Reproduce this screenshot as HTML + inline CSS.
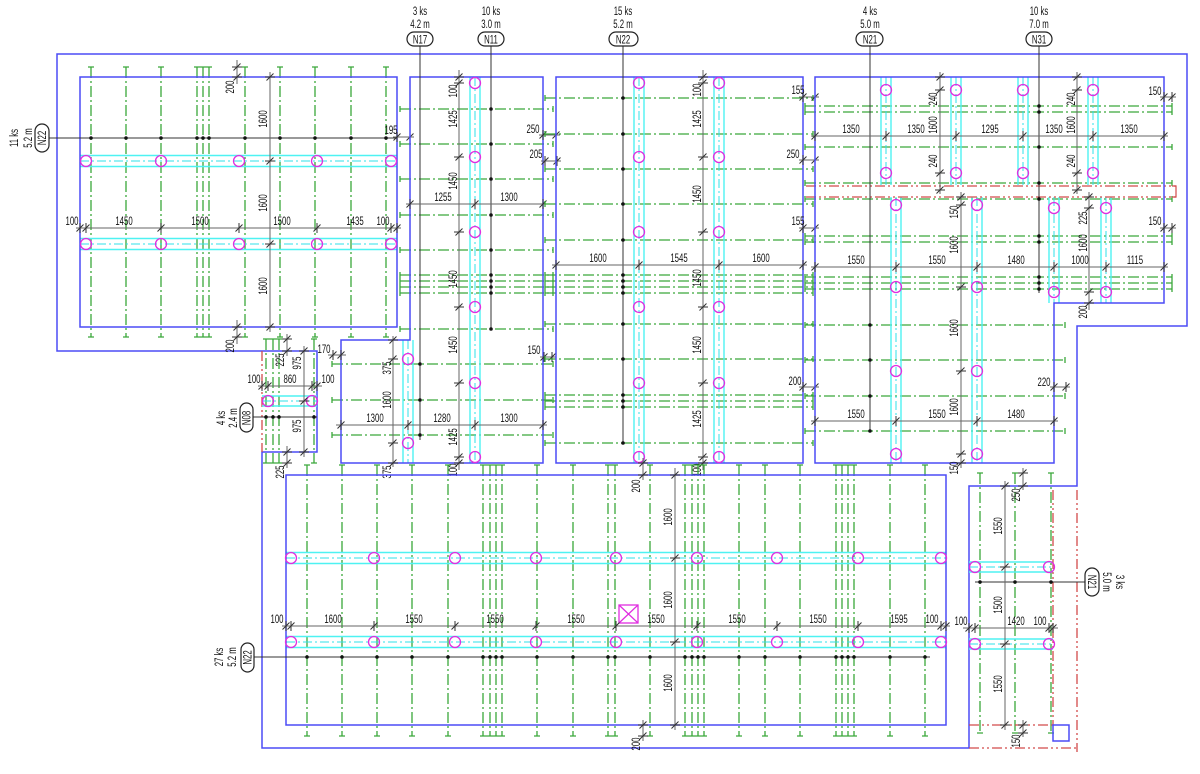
<!DOCTYPE html>
<html><head><meta charset="utf-8">
<style>
html,body{margin:0;padding:0;background:#fff;}
svg{display:block}
.b{stroke:#4b4bf5;stroke-width:1.5;fill:none}
.g{stroke:#3aa83a;stroke-width:1.3;stroke-dasharray:11 3 2 3;fill:none}
.gc{stroke:#3aa83a;stroke-width:1.3;fill:none}
.c{stroke:#4ef2f2;stroke-width:1.4;fill:none}
.cc{stroke:#2fe0ea;stroke-width:1;stroke-dasharray:9 3 2 3;fill:none}
.m{stroke:#e02ee0;stroke-width:1.3;fill:none}
.k{stroke:#333;stroke-width:1;fill:none}
.d{stroke:#666;stroke-width:1;fill:none}
.r{stroke:#d24a4a;stroke-width:1.3;stroke-dasharray:10 3 2 3 2 3;fill:none}
.o{stroke:#222;stroke-width:1.2;fill:#fff}
text{font-family:"Liberation Sans",sans-serif;font-size:12px;fill:#111;text-anchor:middle}
</style></head><body>
<svg width="1200" height="774" viewBox="0 0 1200 774" xmlns="http://www.w3.org/2000/svg">
<defs>
<path id="th" d="M-3.5 3.5L3.5-3.5M0-5V5" stroke="#333" stroke-width="1" fill="none"/>
<path id="tv" d="M-3.5 3.5L3.5-3.5M-5 0H5" stroke="#333" stroke-width="1" fill="none"/>
</defs>
<rect width="1200" height="774" fill="#fff"/>

<!-- OUTER -->
<path class="b" d="M57 54H1187V326H1077V486H969V748H262V452H317V351H57Z"/>
<path class="r" d="M262 351V452"/>

<!-- ============ PANEL A ============ -->
<path class="g" d="M91 67V337M126 67V337M161 67V337M197 67V337M203 67V337M209 67V337M245 67V337M280 67V337M315 67V337M351 67V337M386 67V337"/>
<path class="gc" d="M88 67h6M88 337h6M123 67h6M123 337h6M158 67h6M158 337h6M194 67h6M194 337h6M200 67h6M200 337h6M206 67h6M206 337h6M242 67h6M242 337h6M277 67h6M277 337h6M312 67h6M312 337h6M348 67h6M348 337h6M383 67h6M383 337h6"/>
<path class="c" d="M80 155.5H397M80 166.5H397M80 238.5H397M80 249.5H397"/>
<path class="cc" d="M80 161H397M80 244H397"/>
<rect class="b" x="80" y="77" width="317" height="250"/>
<path class="k" d="M49 138H397"/>
<g class="m">
<circle cx="86" cy="161" r="5.5"/><circle cx="161" cy="161" r="5.5"/><circle cx="239" cy="161" r="5.5"/><circle cx="317" cy="161" r="5.5"/><circle cx="391" cy="161" r="5.5"/>
<circle cx="86" cy="244" r="5.5"/><circle cx="161" cy="244" r="5.5"/><circle cx="239" cy="244" r="5.5"/><circle cx="317" cy="244" r="5.5"/><circle cx="391" cy="244" r="5.5"/>
</g>
<g fill="#111">
<circle cx="91" cy="138" r="1.8"/><circle cx="126" cy="138" r="1.8"/><circle cx="161" cy="138" r="1.8"/><circle cx="197" cy="138" r="1.8"/><circle cx="203" cy="138" r="1.8"/><circle cx="209" cy="138" r="1.8"/><circle cx="245" cy="138" r="1.8"/><circle cx="280" cy="138" r="1.8"/><circle cx="315" cy="138" r="1.8"/><circle cx="351" cy="138" r="1.8"/><circle cx="386" cy="138" r="1.8"/>
</g>
<path class="d" d="M270 72V332M237 60V84M237 320V344M76 228H401M393 137H414"/>
<use href="#tv" x="270" y="77"/><use href="#tv" x="270" y="161"/><use href="#tv" x="270" y="244"/><use href="#tv" x="270" y="327"/>
<use href="#tv" x="237" y="67"/><use href="#tv" x="237" y="77"/><use href="#tv" x="237" y="327"/><use href="#tv" x="237" y="337"/>
<use href="#th" x="80" y="228"/><use href="#th" x="86" y="228"/><use href="#th" x="161" y="228"/><use href="#th" x="239" y="228"/><use href="#th" x="317" y="228"/><use href="#th" x="391" y="228"/><use href="#th" x="397" y="228"/>
<use href="#th" x="397" y="137"/><use href="#th" x="410" y="137"/>
<text transform="translate(267,119) rotate(-90) scale(.65,1)">1600</text>
<text transform="translate(267,203) rotate(-90) scale(.65,1)">1600</text>
<text transform="translate(267,286) rotate(-90) scale(.65,1)">1600</text>
<text transform="translate(234,87) rotate(-90) scale(.65,1)">200</text>
<text transform="translate(234,346) rotate(-90) scale(.65,1)">200</text>
<text transform="translate(72,225) scale(.65,1)">100</text>
<text transform="translate(124,225) scale(.65,1)">1450</text>
<text transform="translate(200,225) scale(.65,1)">1500</text>
<text transform="translate(282,225) scale(.65,1)">1500</text>
<text transform="translate(355,225) scale(.65,1)">1435</text>
<text transform="translate(383,225) scale(.65,1)">100</text>
<text transform="translate(391,134) scale(.65,1)">195</text>
<text transform="translate(18,138) rotate(-90) scale(.65,1)">11 ks</text>
<text transform="translate(32,138) rotate(-90) scale(.65,1)">5.2 m</text>
<rect class="o" x="35" y="124" width="14" height="28" rx="7"/>
<text transform="translate(46,138) rotate(-90) scale(.65,1)">N22</text>

<!-- ============ PANEL B ============ -->
<path class="g" d="M400 109H553M400 144H553M400 179H553M400 215H553M400 250H553M400 275H553M400 281H553M400 287H553M400 293H553M400 329H553M332 364H553M332 400H553M332 435H553"/>
<path class="gc" d="M400 106v6M553 106v6M400 141v6M553 141v6M400 176v6M553 176v6M400 212v6M553 212v6M400 247v6M553 247v6M400 272v24M553 272v24M400 326v6M553 326v6M332 361v6M553 361v6M332 397v6M553 397v6M332 432v6M553 432v6"/>
<path class="c" d="M470 77V463M480 77V463M403 340V463M413 340V463"/>
<path class="cc" d="M475 77V463M408 340V463"/>
<path class="b" d="M410 77H543V463H341V340H410Z"/>
<path class="k" d="M491 46V329M420 46V440"/>
<g class="m">
<circle cx="475" cy="83" r="5.5"/><circle cx="475" cy="157" r="5.5"/><circle cx="475" cy="232" r="5.5"/><circle cx="475" cy="307" r="5.5"/><circle cx="475" cy="383" r="5.5"/><circle cx="475" cy="457" r="5.5"/>
<circle cx="408" cy="359" r="5.5"/><circle cx="408" cy="443" r="5.5"/>
</g>
<g fill="#111">
<circle cx="491" cy="109" r="1.8"/><circle cx="491" cy="144" r="1.8"/><circle cx="491" cy="179" r="1.8"/><circle cx="491" cy="215" r="1.8"/><circle cx="491" cy="250" r="1.8"/><circle cx="491" cy="275" r="1.8"/><circle cx="491" cy="281" r="1.8"/><circle cx="491" cy="287" r="1.8"/><circle cx="491" cy="293" r="1.8"/><circle cx="491" cy="329" r="1.8"/>
<circle cx="420" cy="364" r="1.8"/><circle cx="420" cy="400" r="1.8"/><circle cx="420" cy="435" r="1.8"/>
</g>
<path class="d" d="M459 70V470M406 204H547M336 425H547M393 336V467M539 135H560M541 161H561M540 357H556"/>
<use href="#tv" x="459" y="77"/><use href="#tv" x="459" y="83"/><use href="#tv" x="459" y="157"/><use href="#tv" x="459" y="232"/><use href="#tv" x="459" y="307"/><use href="#tv" x="459" y="383"/><use href="#tv" x="459" y="457"/><use href="#tv" x="459" y="463"/>
<use href="#tv" x="393" y="340"/><use href="#tv" x="393" y="359"/><use href="#tv" x="393" y="443"/><use href="#tv" x="393" y="463"/>
<use href="#th" x="410" y="204"/><use href="#th" x="475" y="204"/><use href="#th" x="543" y="204"/>
<use href="#th" x="341" y="425"/><use href="#th" x="408" y="425"/><use href="#th" x="475" y="425"/><use href="#th" x="543" y="425"/>
<use href="#th" x="543" y="135"/><use href="#th" x="556" y="135"/><use href="#th" x="545" y="161"/><use href="#th" x="557" y="161"/><use href="#th" x="544" y="357"/><use href="#th" x="552" y="357"/>
<text transform="translate(457,91) rotate(-90) scale(.65,1)">100</text>
<text transform="translate(457,119) rotate(-90) scale(.65,1)">1425</text>
<text transform="translate(457,181) rotate(-90) scale(.65,1)">1450</text>
<text transform="translate(457,279) rotate(-90) scale(.65,1)">1450</text>
<text transform="translate(457,345) rotate(-90) scale(.65,1)">1450</text>
<text transform="translate(457,437) rotate(-90) scale(.65,1)">1425</text>
<text transform="translate(457,470) rotate(-90) scale(.65,1)">100</text>
<text transform="translate(391,368) rotate(-90) scale(.65,1)">375</text>
<text transform="translate(391,400) rotate(-90) scale(.65,1)">1600</text>
<text transform="translate(391,472) rotate(-90) scale(.65,1)">375</text>
<text transform="translate(443,201) scale(.65,1)">1255</text>
<text transform="translate(509,201) scale(.65,1)">1300</text>
<text transform="translate(375,422) scale(.65,1)">1300</text>
<text transform="translate(442,422) scale(.65,1)">1280</text>
<text transform="translate(509,422) scale(.65,1)">1300</text>
<text transform="translate(533,133) scale(.65,1)">250</text>
<text transform="translate(536,158) scale(.65,1)">205</text>
<text transform="translate(534,354) scale(.65,1)">150</text>

<!-- ============ PANEL C ============ -->
<path class="g" d="M545 98H813M545 134H813M545 169H813M545 204H813M545 240H813M545 275H813M545 281H813M545 287H813M545 293H813M545 324H813M545 359H813M545 395H813M545 401H813M545 407H813M545 443H813"/>
<path class="gc" d="M545 95v6M813 95v6M545 131v6M813 131v6M545 166v6M813 166v6M545 201v6M813 201v6M545 237v6M813 237v6M545 272v24M813 272v24M545 321v6M813 321v6M545 356v6M813 356v6M545 392v18M813 392v18M545 440v6M813 440v6"/>
<path class="c" d="M634 77V463M644 77V463M714 77V463M724 77V463"/>
<path class="cc" d="M639 77V463M719 77V463"/>
<rect class="b" x="556" y="77" width="247" height="386"/>
<path class="k" d="M623 46V443"/>
<g class="m">
<circle cx="639" cy="83" r="5.5"/><circle cx="639" cy="157" r="5.5"/><circle cx="639" cy="232" r="5.5"/><circle cx="639" cy="307" r="5.5"/><circle cx="639" cy="383" r="5.5"/><circle cx="639" cy="457" r="5.5"/>
<circle cx="719" cy="83" r="5.5"/><circle cx="719" cy="157" r="5.5"/><circle cx="719" cy="232" r="5.5"/><circle cx="719" cy="307" r="5.5"/><circle cx="719" cy="383" r="5.5"/><circle cx="719" cy="457" r="5.5"/>
</g>
<g fill="#111">
<circle cx="623" cy="98" r="1.8"/><circle cx="623" cy="134" r="1.8"/><circle cx="623" cy="169" r="1.8"/><circle cx="623" cy="204" r="1.8"/><circle cx="623" cy="240" r="1.8"/><circle cx="623" cy="275" r="1.8"/><circle cx="623" cy="281" r="1.8"/><circle cx="623" cy="287" r="1.8"/><circle cx="623" cy="293" r="1.8"/><circle cx="623" cy="324" r="1.8"/><circle cx="623" cy="359" r="1.8"/><circle cx="623" cy="395" r="1.8"/><circle cx="623" cy="401" r="1.8"/><circle cx="623" cy="407" r="1.8"/><circle cx="623" cy="443" r="1.8"/>
</g>
<path class="d" d="M703 70V470M552 265H807M799 97H819M799 160H819M799 228H819M799 387H819"/>
<use href="#tv" x="703" y="77"/><use href="#tv" x="703" y="83"/><use href="#tv" x="703" y="157"/><use href="#tv" x="703" y="232"/><use href="#tv" x="703" y="307"/><use href="#tv" x="703" y="383"/><use href="#tv" x="703" y="457"/><use href="#tv" x="703" y="463"/>
<use href="#th" x="556" y="265"/><use href="#th" x="639" y="265"/><use href="#th" x="719" y="265"/><use href="#th" x="803" y="265"/>
<use href="#th" x="803" y="97"/><use href="#th" x="815" y="97"/><use href="#th" x="803" y="160"/><use href="#th" x="815" y="160"/><use href="#th" x="803" y="228"/><use href="#th" x="815" y="228"/><use href="#th" x="803" y="387"/><use href="#th" x="815" y="387"/>
<text transform="translate(701,90) rotate(-90) scale(.65,1)">100</text>
<text transform="translate(701,119) rotate(-90) scale(.65,1)">1425</text>
<text transform="translate(701,194) rotate(-90) scale(.65,1)">1450</text>
<text transform="translate(701,278) rotate(-90) scale(.65,1)">1450</text>
<text transform="translate(701,345) rotate(-90) scale(.65,1)">1450</text>
<text transform="translate(701,419) rotate(-90) scale(.65,1)">1425</text>
<text transform="translate(701,470) rotate(-90) scale(.65,1)">100</text>
<text transform="translate(598,262) scale(.65,1)">1600</text>
<text transform="translate(679,262) scale(.65,1)">1545</text>
<text transform="translate(761,262) scale(.65,1)">1600</text>
<text transform="translate(798,94) scale(.65,1)">155</text>
<text transform="translate(793,158) scale(.65,1)">250</text>
<text transform="translate(798,225) scale(.65,1)">155</text>
<text transform="translate(795,385) scale(.65,1)">200</text>

<!-- ============ PANEL D ============ -->
<path class="g" d="M805 106H1172M805 112H1172M805 147H1172M805 183H1172M805 199H1172M805 236H1172M805 242H1172M805 277H1172M805 283H1172M805 289H1172M805 325H1065M805 360H1065M805 396H1065M805 431H1065"/>
<path class="gc" d="M805 103v12M1172 103v12M805 144v6M1172 144v6M805 180v6M1172 180v6M805 196v6M1172 196v6M805 233v12M1172 233v12M805 274v18M1172 274v18M805 322v6M1065 322v6M805 357v6M1065 357v6M805 393v6M1065 393v6M805 428v6M1065 428v6"/>
<path class="c" d="M881 77V185M891 77V185M951 77V185M961 77V185M1018 77V185M1028 77V185M1088 77V185M1098 77V185M891 197V463M901 197V463M972 197V463M982 197V463M1049 197V303M1059 197V303M1101 197V303M1111 197V303"/>
<path class="cc" d="M886 77V185M956 77V185M1023 77V185M1093 77V185M896 197V463M977 197V463M1054 197V303M1106 197V303"/>
<path class="r" d="M806 186H1176M806 197H1176"/>
<path d="M1172 186H1176V197H1172" stroke="#d24a4a" stroke-width="1.2" fill="none"/>
<path class="b" d="M815 77H1164V303H1054V463H815Z"/>
<path class="k" d="M870 46V431M1039 46V293"/>
<g class="m">
<circle cx="886" cy="90" r="5.5"/><circle cx="956" cy="90" r="5.5"/><circle cx="1023" cy="90" r="5.5"/><circle cx="1093" cy="90" r="5.5"/>
<circle cx="886" cy="173" r="5.5"/><circle cx="956" cy="173" r="5.5"/><circle cx="1023" cy="173" r="5.5"/><circle cx="1093" cy="173" r="5.5"/>
<circle cx="896" cy="205" r="5.5"/><circle cx="896" cy="287" r="5.5"/><circle cx="896" cy="371" r="5.5"/><circle cx="896" cy="454" r="5.5"/>
<circle cx="977" cy="205" r="5.5"/><circle cx="977" cy="287" r="5.5"/><circle cx="977" cy="371" r="5.5"/><circle cx="977" cy="454" r="5.5"/>
<circle cx="1054" cy="208" r="5.5"/><circle cx="1054" cy="292" r="5.5"/><circle cx="1106" cy="208" r="5.5"/><circle cx="1106" cy="292" r="5.5"/>
</g>
<g fill="#111">
<circle cx="870" cy="325" r="1.8"/><circle cx="870" cy="360" r="1.8"/><circle cx="870" cy="396" r="1.8"/><circle cx="870" cy="431" r="1.8"/>
<circle cx="1039" cy="106" r="1.8"/><circle cx="1039" cy="112" r="1.8"/><circle cx="1039" cy="147" r="1.8"/><circle cx="1039" cy="183" r="1.8"/><circle cx="1039" cy="199" r="1.8"/><circle cx="1039" cy="236" r="1.8"/><circle cx="1039" cy="242" r="1.8"/><circle cx="1039" cy="277" r="1.8"/><circle cx="1039" cy="283" r="1.8"/><circle cx="1039" cy="289" r="1.8"/>
</g>
<path class="d" d="M940 72V194M1077 72V194M961 192V468M1089 192V310M811 136H1168M811 267H1168M811 421H1058M1160 97H1176M1160 228H1176M1050 387H1070"/>
<use href="#tv" x="940" y="77"/><use href="#tv" x="940" y="90"/><use href="#tv" x="940" y="173"/><use href="#tv" x="940" y="190"/>
<use href="#tv" x="1077" y="77"/><use href="#tv" x="1077" y="90"/><use href="#tv" x="1077" y="173"/><use href="#tv" x="1077" y="190"/>
<use href="#tv" x="961" y="197"/><use href="#tv" x="961" y="205"/><use href="#tv" x="961" y="287"/><use href="#tv" x="961" y="371"/><use href="#tv" x="961" y="454"/><use href="#tv" x="961" y="463"/>
<use href="#tv" x="1089" y="197"/><use href="#tv" x="1089" y="208"/><use href="#tv" x="1089" y="292"/><use href="#tv" x="1089" y="303"/>
<use href="#th" x="815" y="136"/><use href="#th" x="886" y="136"/><use href="#th" x="956" y="136"/><use href="#th" x="1023" y="136"/><use href="#th" x="1093" y="136"/><use href="#th" x="1164" y="136"/>
<use href="#th" x="815" y="267"/><use href="#th" x="896" y="267"/><use href="#th" x="977" y="267"/><use href="#th" x="1054" y="267"/><use href="#th" x="1106" y="267"/><use href="#th" x="1164" y="267"/>
<use href="#th" x="815" y="421"/><use href="#th" x="896" y="421"/><use href="#th" x="977" y="421"/><use href="#th" x="1054" y="421"/>
<use href="#th" x="1164" y="97"/><use href="#th" x="1172" y="97"/><use href="#th" x="1164" y="228"/><use href="#th" x="1172" y="228"/><use href="#th" x="1054" y="387"/><use href="#th" x="1066" y="387"/>
<text transform="translate(937,99) rotate(-90) scale(.65,1)">240</text>
<text transform="translate(937,125) rotate(-90) scale(.65,1)">1600</text>
<text transform="translate(937,161) rotate(-90) scale(.65,1)">240</text>
<text transform="translate(1075,99) rotate(-90) scale(.65,1)">240</text>
<text transform="translate(1075,125) rotate(-90) scale(.65,1)">1600</text>
<text transform="translate(1075,161) rotate(-90) scale(.65,1)">240</text>
<text transform="translate(958,212) rotate(-90) scale(.65,1)">150</text>
<text transform="translate(958,245) rotate(-90) scale(.65,1)">1600</text>
<text transform="translate(958,328) rotate(-90) scale(.65,1)">1600</text>
<text transform="translate(958,407) rotate(-90) scale(.65,1)">1600</text>
<text transform="translate(958,468) rotate(-90) scale(.65,1)">150</text>
<text transform="translate(1087,218) rotate(-90) scale(.65,1)">225</text>
<text transform="translate(1087,243) rotate(-90) scale(.65,1)">1600</text>
<text transform="translate(1087,312) rotate(-90) scale(.65,1)">200</text>
<text transform="translate(851,133) scale(.65,1)">1350</text>
<text transform="translate(916,133) scale(.65,1)">1350</text>
<text transform="translate(990,133) scale(.65,1)">1295</text>
<text transform="translate(1054,133) scale(.65,1)">1350</text>
<text transform="translate(1129,133) scale(.65,1)">1350</text>
<text transform="translate(856,264) scale(.65,1)">1550</text>
<text transform="translate(937,264) scale(.65,1)">1550</text>
<text transform="translate(1016,264) scale(.65,1)">1480</text>
<text transform="translate(1080,264) scale(.65,1)">1000</text>
<text transform="translate(1135,264) scale(.65,1)">1115</text>
<text transform="translate(856,418) scale(.65,1)">1550</text>
<text transform="translate(937,418) scale(.65,1)">1550</text>
<text transform="translate(1016,418) scale(.65,1)">1480</text>
<text transform="translate(1155,95) scale(.65,1)">150</text>
<text transform="translate(1155,225) scale(.65,1)">150</text>
<text transform="translate(1044,386) scale(.65,1)">220</text>

<!-- ============ TOP LABELS ============ -->
<text transform="translate(420,15) scale(.65,1)">3 ks</text>
<text transform="translate(420,28) scale(.65,1)">4.2 m</text>
<rect class="o" x="407" y="32" width="26" height="14" rx="7"/>
<text transform="translate(420,43.5) scale(.65,1)">N17</text>
<text transform="translate(491,15) scale(.65,1)">10 ks</text>
<text transform="translate(491,28) scale(.65,1)">3.0 m</text>
<rect class="o" x="478" y="32" width="26" height="14" rx="7"/>
<text transform="translate(491,43.5) scale(.65,1)">N11</text>
<text transform="translate(623,15) scale(.65,1)">15 ks</text>
<text transform="translate(623,28) scale(.65,1)">5.2 m</text>
<rect class="o" x="609" y="32" width="29" height="14" rx="7"/>
<text transform="translate(623,43.5) scale(.65,1)">N22</text>
<text transform="translate(870,15) scale(.65,1)">4 ks</text>
<text transform="translate(870,28) scale(.65,1)">5.0 m</text>
<rect class="o" x="856" y="32" width="27" height="14" rx="7"/>
<text transform="translate(870,43.5) scale(.65,1)">N21</text>
<text transform="translate(1039,15) scale(.65,1)">10 ks</text>
<text transform="translate(1039,28) scale(.65,1)">7.0 m</text>
<rect class="o" x="1026" y="32" width="26" height="14" rx="7"/>
<text transform="translate(1039,43.5) scale(.65,1)">N31</text>

<!-- ============ PANEL E ============ -->
<path class="g" d="M307 465V736M342 465V736M377 465V736M412 465V736M448 465V736M483 465V736M490 465V736M496 465V736M502 465V736M537 465V736M573 465V736M608 465V736M615 465V736M650 465V736M685 465V736M692 465V736M698 465V736M704 465V736M739 465V736M765 465V736M800 465V736M836 465V736M842 465V736M848 465V736M854 465V736M890 465V736M925 465V736"/>
<path class="gc" d="M304 465h6M304 736h6M339 465h6M339 736h6M374 465h6M374 736h6M409 465h6M409 736h6M445 465h6M445 736h6M480 465h25M480 736h25M534 465h6M534 736h6M570 465h6M570 736h6M605 465h13M605 736h13M647 465h6M647 736h6M682 465h25M682 736h25M736 465h6M736 736h6M762 465h6M762 736h6M797 465h6M797 736h6M833 465h24M833 736h24M887 465h6M887 736h6M922 465h6M922 736h6"/>
<path class="c" d="M286 552.5H946M286 563.5H946M286 636.5H946M286 647.5H946"/>
<path class="cc" d="M286 558H946M286 642H946"/>
<rect class="b" x="286" y="475" width="660" height="250"/>
<path class="k" d="M254 657H930"/>
<g class="m">
<circle cx="291" cy="558" r="5.5"/><circle cx="374" cy="558" r="5.5"/><circle cx="455" cy="558" r="5.5"/><circle cx="536" cy="558" r="5.5"/><circle cx="616" cy="558" r="5.5"/><circle cx="697" cy="558" r="5.5"/><circle cx="777" cy="558" r="5.5"/><circle cx="858" cy="558" r="5.5"/><circle cx="941" cy="558" r="5.5"/>
<circle cx="291" cy="642" r="5.5"/><circle cx="374" cy="642" r="5.5"/><circle cx="455" cy="642" r="5.5"/><circle cx="536" cy="642" r="5.5"/><circle cx="616" cy="642" r="5.5"/><circle cx="697" cy="642" r="5.5"/><circle cx="777" cy="642" r="5.5"/><circle cx="858" cy="642" r="5.5"/><circle cx="941" cy="642" r="5.5"/>
<rect x="619" y="605" width="19" height="18"/>
<path d="M619 605L638 623M638 605L619 623"/>
</g>
<g fill="#111">
<circle cx="307" cy="657" r="1.8"/><circle cx="342" cy="657" r="1.8"/><circle cx="377" cy="657" r="1.8"/><circle cx="412" cy="657" r="1.8"/><circle cx="448" cy="657" r="1.8"/><circle cx="483" cy="657" r="1.8"/><circle cx="490" cy="657" r="1.8"/><circle cx="496" cy="657" r="1.8"/><circle cx="502" cy="657" r="1.8"/><circle cx="537" cy="657" r="1.8"/><circle cx="573" cy="657" r="1.8"/><circle cx="608" cy="657" r="1.8"/><circle cx="615" cy="657" r="1.8"/><circle cx="650" cy="657" r="1.8"/><circle cx="685" cy="657" r="1.8"/><circle cx="692" cy="657" r="1.8"/><circle cx="698" cy="657" r="1.8"/><circle cx="704" cy="657" r="1.8"/><circle cx="739" cy="657" r="1.8"/><circle cx="765" cy="657" r="1.8"/><circle cx="800" cy="657" r="1.8"/><circle cx="836" cy="657" r="1.8"/><circle cx="842" cy="657" r="1.8"/><circle cx="848" cy="657" r="1.8"/><circle cx="854" cy="657" r="1.8"/><circle cx="890" cy="657" r="1.8"/><circle cx="925" cy="657" r="1.8"/>
</g>
<path class="d" d="M282 626H950M675 468V730M643 458V480M643 720V741M287 446V468"/>
<use href="#th" x="286" y="626"/><use href="#th" x="291" y="626"/><use href="#th" x="374" y="626"/><use href="#th" x="455" y="626"/><use href="#th" x="536" y="626"/><use href="#th" x="616" y="626"/><use href="#th" x="697" y="626"/><use href="#th" x="777" y="626"/><use href="#th" x="858" y="626"/><use href="#th" x="941" y="626"/><use href="#th" x="946" y="626"/>
<use href="#tv" x="675" y="475"/><use href="#tv" x="675" y="558"/><use href="#tv" x="675" y="642"/><use href="#tv" x="675" y="725"/>
<use href="#tv" x="643" y="463"/><use href="#tv" x="643" y="475"/><use href="#tv" x="643" y="725"/><use href="#tv" x="643" y="736"/>
<use href="#tv" x="287" y="452"/><use href="#tv" x="287" y="463"/>
<text transform="translate(277,623) scale(.65,1)">100</text>
<text transform="translate(333,623) scale(.65,1)">1600</text>
<text transform="translate(414,623) scale(.65,1)">1550</text>
<text transform="translate(495,623) scale(.65,1)">1550</text>
<text transform="translate(576,623) scale(.65,1)">1550</text>
<text transform="translate(656,623) scale(.65,1)">1550</text>
<text transform="translate(737,623) scale(.65,1)">1550</text>
<text transform="translate(818,623) scale(.65,1)">1550</text>
<text transform="translate(899,623) scale(.65,1)">1595</text>
<text transform="translate(932,623) scale(.65,1)">100</text>
<text transform="translate(672,517) rotate(-90) scale(.65,1)">1600</text>
<text transform="translate(672,600) rotate(-90) scale(.65,1)">1600</text>
<text transform="translate(672,683) rotate(-90) scale(.65,1)">1600</text>
<text transform="translate(640,486) rotate(-90) scale(.65,1)">200</text>
<text transform="translate(640,744) rotate(-90) scale(.65,1)">200</text>
<text transform="translate(284,472) rotate(-90) scale(.65,1)">225</text>
<text transform="translate(223,657) rotate(-90) scale(.65,1)">27 ks</text>
<text transform="translate(236,657) rotate(-90) scale(.65,1)">5.2 m</text>
<rect class="o" x="241" y="643" width="13" height="29" rx="6.5"/>
<text transform="translate(251.5,657.5) rotate(-90) scale(.65,1)">N22</text>

<!-- ============ PANEL F ============ -->
<path class="g" d="M980 473V733M1015 473V733M1051 473V733"/>
<path class="gc" d="M977 473h6M977 733h6M1012 473h6M1012 733h6M1048 473h6M1048 733h6"/>
<path class="c" d="M969 562H1053M969 572H1053M969 639H1053M969 649H1053"/>
<path class="cc" d="M969 567H1053M969 644H1053"/>
<path class="r" d="M1053 490V725M1077 490V752M969 725H1053M969 748H1077"/>
<rect class="b" x="1053" y="725" width="16" height="16"/>
<path class="k" d="M975 582H1085"/>
<g class="m">
<circle cx="975" cy="567" r="5.5"/><circle cx="1049" cy="567" r="5.5"/><circle cx="975" cy="644" r="5.5"/><circle cx="1049" cy="644" r="5.5"/>
</g>
<g fill="#111">
<circle cx="980" cy="582" r="1.8"/><circle cx="1015" cy="582" r="1.8"/><circle cx="1051" cy="582" r="1.8"/>
</g>
<path class="d" d="M1005 481V730M963 628H1058M1023 468V490M1023 720V737"/>
<use href="#tv" x="1005" y="486"/><use href="#tv" x="1005" y="567"/><use href="#tv" x="1005" y="644"/><use href="#tv" x="1005" y="725"/>
<use href="#tv" x="1023" y="473"/><use href="#tv" x="1023" y="486"/><use href="#tv" x="1023" y="725"/><use href="#tv" x="1023" y="733"/>
<use href="#th" x="969" y="628"/><use href="#th" x="975" y="628"/><use href="#th" x="1049" y="628"/><use href="#th" x="1053" y="628"/>
<text transform="translate(1002,526) rotate(-90) scale(.65,1)">1550</text>
<text transform="translate(1002,605) rotate(-90) scale(.65,1)">1500</text>
<text transform="translate(1002,684) rotate(-90) scale(.65,1)">1550</text>
<text transform="translate(1020,495) rotate(-90) scale(.65,1)">250</text>
<text transform="translate(1020,741) rotate(-90) scale(.65,1)">150</text>
<text transform="translate(961,625) scale(.65,1)">100</text>
<text transform="translate(1016,625) scale(.65,1)">1420</text>
<text transform="translate(1040,625) scale(.65,1)">100</text>
<rect class="o" x="1085" y="568" width="14" height="28" rx="7"/>
<text transform="translate(1088,582) rotate(90) scale(.65,1)">N21</text>
<text transform="translate(1103,582) rotate(90) scale(.65,1)">5.0 m</text>
<text transform="translate(1116,582) rotate(90) scale(.65,1)">3 ks</text>

<!-- ============ N08 ============ -->
<path class="g" d="M266 339V463M273 339V463M279 339V463M314 339V463"/>
<path class="gc" d="M263 339h19M263 463h19M311 339h6M311 463h6"/>
<path class="c" d="M262 396H317M262 406H317"/>
<path class="cc" d="M262 401H317"/>
<path class="k" d="M253 417H317"/>
<g class="m"><circle cx="268" cy="401" r="5.5"/><circle cx="312" cy="401" r="5.5"/></g>
<g fill="#111">
<circle cx="266" cy="417" r="1.8"/><circle cx="273" cy="417" r="1.8"/><circle cx="279" cy="417" r="1.8"/><circle cx="314" cy="417" r="1.8"/>
</g>
<path class="d" d="M304 346V457M258 386H322M287 334V356M328 355H346"/>
<use href="#tv" x="304" y="351"/><use href="#tv" x="304" y="401"/><use href="#tv" x="304" y="452"/>
<use href="#tv" x="287" y="339"/><use href="#tv" x="287" y="351"/>
<use href="#th" x="262" y="386"/><use href="#th" x="268" y="386"/><use href="#th" x="312" y="386"/><use href="#th" x="317" y="386"/>
<use href="#th" x="333" y="355"/><use href="#th" x="341" y="355"/>
<text transform="translate(301,363) rotate(-90) scale(.65,1)">975</text>
<text transform="translate(301,426) rotate(-90) scale(.65,1)">975</text>
<text transform="translate(284,360) rotate(-90) scale(.65,1)">225</text>
<text transform="translate(254,383) scale(.65,1)">100</text>
<text transform="translate(290,383) scale(.65,1)">860</text>
<text transform="translate(328,383) scale(.65,1)">100</text>
<text transform="translate(324,353) scale(.65,1)">170</text>
<text transform="translate(225,418) rotate(-90) scale(.65,1)">4 ks</text>
<text transform="translate(237,418) rotate(-90) scale(.65,1)">2.4 m</text>
<rect class="o" x="240" y="403" width="13" height="29" rx="6.5"/>
<text transform="translate(250.5,418) rotate(-90) scale(.65,1)">N08</text>
</svg>
</body></html>
